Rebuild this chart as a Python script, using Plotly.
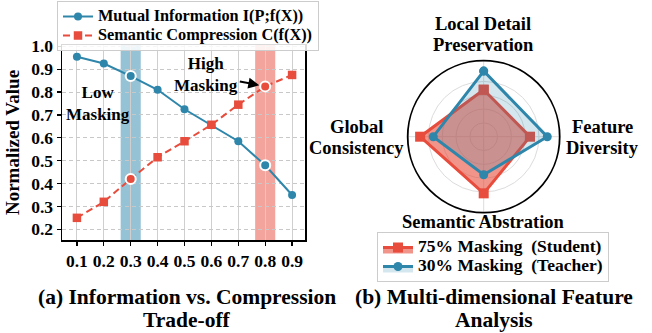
import plotly.graph_objects as go

# ---------------- data ----------------
mask_x = [0.1, 0.19375, 0.2875, 0.38125, 0.475, 0.56875, 0.6625, 0.75625, 0.85]
x_tick_labels = ["0.1", "0.2", "0.3", "0.4", "0.5", "0.6", "0.7", "0.8", "0.9"]
y_tick_vals = [0.2, 0.3, 0.4, 0.5, 0.6, 0.7, 0.8, 0.9, 1.0]
mutual_info = [0.955, 0.925, 0.87, 0.81, 0.725, 0.655, 0.585, 0.48, 0.35]
semantic_comp = [0.25, 0.32, 0.42, 0.515, 0.585, 0.657, 0.745, 0.825, 0.875]
low_idx = 2
high_idx = 7
line_names = ["Mutual Information I(P;f(X))", "Semantic Compression C(f(X))"]

radar_categories = ["Local Detail Preservation", "Feature Diversity",
                    "Semantic Abstration", "Global Consistency"]
radar_label_lines = [["Local Detail", "Preservation"], ["Feature", "Diversity"],
                     ["Semantic Abstration"], ["Global", "Consistency"]]
student_vals = [0.68, 0.67, 0.82, 0.92]
teacher_vals = [0.95, 0.92, 0.55, 0.73]
radar_names = ["75% Masking  (Student)", "30% Masking  (Teacher)"]

BLUE = "#2E86AB"
RED = "#E74C3C"
FONT = "Liberation Serif"
W, H = 652, 333


def big(txt, px):
    return f"<span style='font-size:{px}px'>{txt}</span>"


fig = go.Figure()

# ---------------- left chart ----------------
fig.add_trace(go.Scatter(
    x=mask_x, y=mutual_info, mode="lines+markers", name=big(line_names[0], 16.3),
    line=dict(color=BLUE, width=2), marker=dict(symbol="circle", size=8, color=BLUE),
    xaxis="x", yaxis="y", legend="legend"))
fig.add_trace(go.Scatter(
    x=mask_x, y=semantic_comp, mode="lines+markers", name=big(line_names[1], 16.3),
    line=dict(color=RED, width=2, dash="7px,4px"),
    marker=dict(symbol="square", size=8.5, color=RED),
    xaxis="x", yaxis="y", legend="legend"))
for series, col in ((mutual_info, BLUE), (semantic_comp, RED)):
    fig.add_trace(go.Scatter(
        x=[mask_x[low_idx], mask_x[high_idx]], y=[series[low_idx], series[high_idx]],
        mode="markers", showlegend=False,
        marker=dict(symbol="circle", size=10, color=col, line=dict(color="white", width=2)),
        xaxis="x", yaxis="y"))

band_half = 0.035
for idx, col in ((low_idx, "rgba(46,134,171,0.5)"), (high_idx, "rgba(231,76,60,0.5)")):
    fig.add_shape(type="rect", xref="x", yref="y domain",
                  x0=mask_x[idx] - band_half, x1=mask_x[idx] + band_half, y0=0, y1=1,
                  fillcolor=col, line_width=0, layer="below")

ann_font = dict(family=FONT, size=17, color="black", weight="bold")
fig.add_annotation(x=mask_x[low_idx], y=mutual_info[low_idx], xref="x", yref="y",
                   ax=0.175, ay=0.752, axref="x", ayref="y",
                   text="Low<br>Masking", font=ann_font, showarrow=True,
                   arrowhead=2, arrowsize=1.1, arrowwidth=2, arrowcolor="black", standoff=6)
fig.add_annotation(x=mask_x[high_idx], y=semantic_comp[high_idx], xref="x", yref="y",
                   ax=0.551, ay=0.875, axref="x", ayref="y",
                   text="High<br>Masking", font=ann_font, showarrow=True,
                   arrowhead=2, arrowsize=1.1, arrowwidth=2, arrowcolor="black", standoff=6)

# ---------------- radar ----------------
fig.add_trace(go.Scatterpolar(
    r=student_vals + student_vals[:1], theta=radar_categories + radar_categories[:1],
    mode="lines+markers", name=big(radar_names[0], 17.5), fill="toself",
    fillcolor="rgba(231,76,60,0.6)", line=dict(color=RED, width=3),
    marker=dict(symbol="square", size=10, color=RED), legend="legend2"))
fig.add_trace(go.Scatterpolar(
    r=teacher_vals + teacher_vals[:1], theta=radar_categories + radar_categories[:1],
    mode="lines+markers", name=big(radar_names[1], 17.5), fill="toself",
    fillcolor="rgba(46,134,171,0.2)", line=dict(color=BLUE, width=3),
    marker=dict(symbol="circle", size=9, color=BLUE), legend="legend2"))

label_centers = [(483, 34.5), (602, 137), (483, 222), (356, 137)]
line_gap = 21
lab_font = dict(family=FONT, size=18.5, color="black", weight="bold")
for lines, (px, py) in zip(radar_label_lines, label_centers):
    n = len(lines)
    for i, ln in enumerate(lines):
        yy = py + (i - (n - 1) / 2) * line_gap
        fig.add_annotation(x=px / W, y=1 - yy / H, xref="paper", yref="paper",
                           xanchor="center", yanchor="middle",
                           text=ln, showarrow=False, font=lab_font)

cap_font = dict(family=FONT, size=21.5, color="black", weight="bold")
for txt, px, py in (("(a) Information vs. Compression", 187, 297), ("Trade-off", 187, 320),
                    ("(b) Multi-dimensional Feature", 494, 297), ("Analysis", 494, 320)):
    fig.add_annotation(x=px / W, y=1 - py / H, xref="paper", yref="paper", text=txt,
                       xanchor="center", yanchor="middle", showarrow=False, font=cap_font)

cx, cy, rad = 483.7, 136.7, 76
tick_font = dict(family=FONT, size=17.5, color="black", weight="bold")
leg_font = dict(family=FONT, size=12, color="black", weight="bold")
fig.update_layout(
    template="none",
    width=W, height=H, margin=dict(l=0, r=0, t=0, b=0),
    paper_bgcolor="white", plot_bgcolor="white",
    font=dict(family=FONT, color="black"),
    xaxis=dict(domain=[62 / W, 305 / W], range=[0.048, 0.895], automargin=False,
               tickvals=mask_x, ticktext=x_tick_labels, tickfont=tick_font,
               ticks="outside", ticklen=4, tickwidth=1.2, tickcolor="black",
               showgrid=True, gridcolor="#cfcfcf", gridwidth=1,
               showline=True, linecolor="black", linewidth=1.5, mirror=True, zeroline=False),
    yaxis=dict(domain=[1 - 240 / H, 1 - 45 / H], range=[0.153, 1.006], automargin=False,
               tickvals=y_tick_vals, ticktext=[f"{v:.1f}" for v in y_tick_vals],
               tickfont=tick_font, ticks="outside", ticklen=4, tickwidth=1.2, tickcolor="black",
               showgrid=True, gridcolor="#c8c8c8", gridwidth=1, griddash="4px,3px",
               showline=True, linecolor="black", linewidth=1.5, mirror=True, zeroline=False,
               title=dict(text="Normalized Value", standoff=6,
                          font=dict(family=FONT, size=19, color="black", weight="bold"))),
    polar=dict(
        domain=dict(x=[(cx - rad) / W, (cx + rad) / W], y=[1 - (cy + rad) / H, 1 - (cy - rad) / H]),
        bgcolor="white",
        radialaxis=dict(range=[0, 1.1], tickvals=[0.2, 0.4, 0.6, 0.8], showticklabels=False,
                        ticks="", showline=False, gridcolor="#dcdcdc", gridwidth=1),
        angularaxis=dict(direction="clockwise", rotation=90, showticklabels=False, ticks="",
                         showline=True, linecolor="black", linewidth=1.8,
                         gridcolor="#dcdcdc", gridwidth=1)),
    legend=dict(x=57 / W, y=1 - 1 / H, xanchor="left", yanchor="top",
                bgcolor="rgba(255,255,255,0.85)", bordercolor="#cccccc", borderwidth=1,
                font=leg_font, itemwidth=30, tracegroupgap=0),
    legend2=dict(x=377 / W, y=1 - 232 / H, xanchor="left", yanchor="top",
                 bgcolor="rgba(255,255,255,0.85)", bordercolor="#cccccc", borderwidth=1,
                 font=leg_font, itemwidth=30, tracegroupgap=0),
    showlegend=True,
)

fig.write_html("out.html",
               config={"displayModeBar": False, "staticPlot": True},
               post_script="document.body.style.margin='0';document.body.style.overflow='hidden';")
